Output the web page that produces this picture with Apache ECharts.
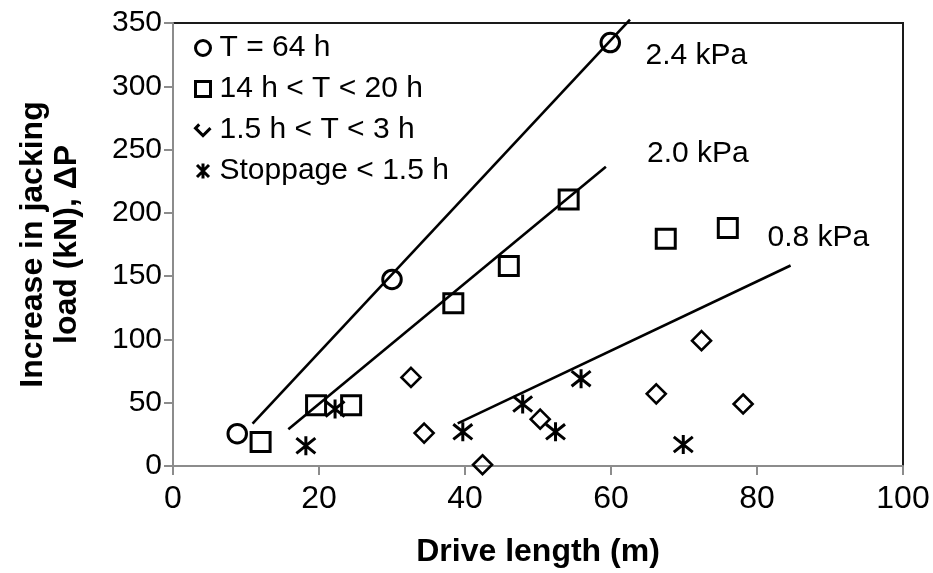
<!DOCTYPE html>
<html>
<head>
<meta charset="utf-8">
<script src="https://cdn.jsdelivr.net/npm/echarts@6/dist/echarts.min.js"></script>
<style>
html,body{margin:0;padding:0;background:#fff;}
#chart{width:933px;height:573px;}
</style>
</head>
<body>
<div id="chart"></div>
<script>
// ---- data ----
const seriesNames = ['T = 64 h', '14 h < T < 20 h', '1.5 h < T < 3 h', 'Stoppage < 1.5 h'];
const circleX = [8.8, 30.0, 59.9];
const circleY = [25.5, 147.4, 334.5];
const squareX = [12.0, 19.6, 24.4, 38.4, 46.0, 54.2, 67.5, 76.0];
const squareY = [19, 48, 48, 128.5, 158, 210.5, 179.5, 188];
const diamondX = [32.6, 34.4, 42.4, 50.3, 66.2, 72.4, 78.1];
const diamondY = [70, 26, 1, 37, 57, 99, 49];
const starX = [18.2, 22.2, 39.7, 47.9, 52.4, 55.9, 69.9];
const starY = [16, 45, 27, 49, 27, 69, 17];
const fit24X = [10.9, 62.6];
const fit24Y = [33.5, 352.6];
const fit20X = [15.8, 59.3];
const fit20Y = [29, 236.4];
const fit08X = [39.0, 84.6];
const fit08Y = [33.7, 158.4];
const noteText = ['2.4 kPa', '2.0 kPa', '0.8 kPa'];
const noteX = [71.7, 71.9, 88.4];
const noteY = [324, 247, 180.4];
const xAxisTitle = 'Drive length (m)';
const yAxisTitle = 'Increase in jacking\nload (kN), \u0394P';

const zip = (xs, ys) => xs.map((x, i) => [x, ys[i]]);
const FONT = '"Liberation Sans", Arial, sans-serif';
const starPath = 'path://M10,0L10,20M2,2L18,18M2,18L18,2';
const chevronPath = 'path://M4,4L0,8L8,16L16,8';

const markerStyle = (bw) => ({ color: 'transparent', borderColor: '#000', borderWidth: bw, opacity: 1 });
const fitLine = (xs, ys) => ({
  type: 'line', data: zip(xs, ys), showSymbol: false, symbol: 'none', clip: false,
  lineStyle: { color: '#000', width: 2.6 }, silent: true, z: 3
});

const chart = echarts.init(document.getElementById('chart'), null, { renderer: 'canvas' });
chart.setOption({
  animation: false,
  backgroundColor: '#fff',
  textStyle: { fontFamily: FONT },
  grid: { left: 173, right: 30, top: 23, bottom: 106, show: true, borderColor: '#1a1a1a', borderWidth: 2, backgroundColor: 'transparent' },
  xAxis: {
    type: 'value', min: 0, max: 100, interval: 20,
    name: xAxisTitle, nameLocation: 'middle', nameGap: 70,
    nameTextStyle: { fontFamily: FONT, fontWeight: 'bold', fontSize: 32, color: '#000' },
    axisLine: { show: true, onZero: false, lineStyle: { color: '#8c8c8c', width: 2 } },
    axisTick: { show: true, inside: false, length: 9, lineStyle: { color: '#8c8c8c', width: 2 } },
    axisLabel: { fontFamily: FONT, fontSize: 32, color: '#000', margin: 17 },
    splitLine: { show: false }
  },
  yAxis: {
    type: 'value', min: 0, max: 350, interval: 50,
    name: yAxisTitle, nameLocation: 'middle', nameRotate: 90, nameGap: 89,
    nameTextStyle: { fontFamily: FONT, fontWeight: 'bold', fontSize: 32, lineHeight: 34, color: '#000', align: 'center' },
    axisLine: { show: true, onZero: false, lineStyle: { color: '#8c8c8c', width: 2 } },
    axisTick: { show: true, inside: false, length: 9, lineStyle: { color: '#8c8c8c', width: 2 } },
    axisLabel: { fontFamily: FONT, fontSize: 30, color: '#000', margin: 11 },
    splitLine: { show: false }
  },
  legend: {
    orient: 'vertical', left: 194, top: 33, padding: 0, itemGap: 11,
    itemWidth: 15, itemHeight: 15,
    itemStyle: { borderWidth: 3, borderColor: '#000', color: 'transparent', opacity: 1 },
    textStyle: { fontFamily: FONT, fontSize: 30, lineHeight: 30, color: '#000', padding: [0, 0, 0, 4] },
    data: [
      { name: seriesNames[0], icon: 'circle' },
      { name: seriesNames[1], icon: 'rect' },
      { name: seriesNames[2], icon: chevronPath },
      { name: seriesNames[3], icon: starPath }
    ]
  },
  series: [
    { name: seriesNames[0], type: 'scatter', symbol: 'circle', symbolSize: 18.5, data: zip(circleX, circleY), itemStyle: markerStyle(3), z: 4 },
    { name: seriesNames[1], type: 'scatter', symbol: 'rect', symbolSize: 19, data: zip(squareX, squareY), itemStyle: markerStyle(3), z: 4 },
    { name: seriesNames[2], type: 'scatter', symbol: 'diamond', symbolSize: 19, data: zip(diamondX, diamondY), itemStyle: markerStyle(2.6), z: 4 },
    { name: seriesNames[3], type: 'scatter', symbol: starPath, symbolSize: 19, data: zip(starX, starY), itemStyle: markerStyle(3), z: 5 },
    fitLine(fit24X, fit24Y),
    fitLine(fit20X, fit20Y),
    fitLine(fit08X, fit08Y),
    {
      type: 'scatter', name: 'notes', symbolSize: 0, silent: true, z: 6,
      itemStyle: { opacity: 1 },
      data: noteText.map((t, i) => ({ name: t, value: [noteX[i], noteY[i]] })),
      label: { show: true, position: 'inside', formatter: '{b}', fontFamily: FONT, fontSize: 30, color: '#000', align: 'center', verticalAlign: 'middle' }
    }
  ]
});
</script>
</body>
</html>
